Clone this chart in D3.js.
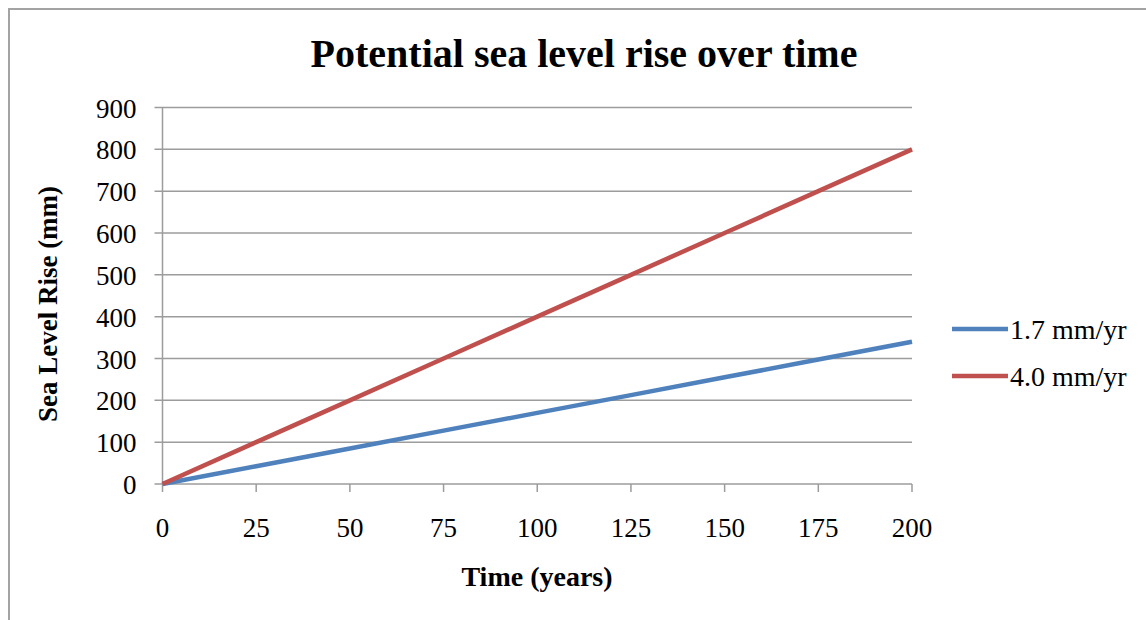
<!DOCTYPE html>
<html>
<head>
<meta charset="utf-8">
<script src="https://cdn.jsdelivr.net/npm/d3@7"></script>
<style>
  body { margin: 0; background: #fff; }
  text { font-family: "Liberation Serif", "DejaVu Serif", serif; fill: #000; }
</style>
</head>
<body>
<div id="chart"></div>
<script>
var years = [0, 25, 50, 75, 100, 125, 150, 175, 200];
var rise17 = [0, 42.5, 85, 127.5, 170, 212.5, 255, 297.5, 340];
var rise40 = [0, 100, 200, 300, 400, 500, 600, 700, 800];
var seriesNames = ["1.7 mm/yr", "4.0 mm/yr"];
var seriesColors = ["#4f81bd", "#c0504d"];
var yTicks = [0, 100, 200, 300, 400, 500, 600, 700, 800, 900];

function init() {
    var w = 1146;
    var h = 620;
    var margin = { top: 107.5, right: 234, bottom: 136, left: 162.5 };
    var innerWidth = w - margin.left - margin.right;
    var innerHeight = h - margin.top - margin.bottom;

    var svg = d3.select("#chart")
        .append("svg")
        .attr("width", w)
        .attr("height", h);

    // outer frame (cut off at right and bottom)
    svg.append("path")
        .attr("d", "M9,630 L9,9 L1160,9")
        .attr("fill", "none")
        .attr("stroke", "#a3a3a3")
        .attr("stroke-width", 2);

    svg.append("text")
        .attr("x", 584)
        .attr("y", 67)
        .attr("text-anchor", "middle")
        .style("font-size", "40px")
        .style("font-weight", "bold")
        .text("Potential sea level rise over time");

    var xScale = d3.scaleLinear().domain([0, 200]).range([0, innerWidth]);
    var yScale = d3.scaleLinear().domain([0, 900]).range([innerHeight, 0]);

    var g = svg.append("g")
        .attr("transform", "translate(" + margin.left + "," + margin.top + ")");

    // gridlines
    g.selectAll(".grid")
        .data(yTicks)
        .enter()
        .append("line")
        .attr("x1", -8)
        .attr("x2", innerWidth)
        .attr("y1", function(d) { return yScale(d); })
        .attr("y2", function(d) { return yScale(d); })
        .attr("stroke", "#9c9c9c")
        .attr("stroke-width", 1.5);

    // y axis line
    g.append("line")
        .attr("x1", 0).attr("x2", 0)
        .attr("y1", 0).attr("y2", innerHeight)
        .attr("stroke", "#9c9c9c")
        .attr("stroke-width", 1.5);

    // x ticks
    g.selectAll(".xtick")
        .data(years)
        .enter()
        .append("line")
        .attr("x1", function(d) { return xScale(d); })
        .attr("x2", function(d) { return xScale(d); })
        .attr("y1", innerHeight)
        .attr("y2", innerHeight + 8)
        .attr("stroke", "#9c9c9c")
        .attr("stroke-width", 1.5);

    g.selectAll(".ylab")
        .data(yTicks)
        .enter()
        .append("text")
        .attr("x", -26)
        .attr("y", function(d) { return yScale(d) + 10; })
        .attr("text-anchor", "end")
        .style("font-size", "27px")
        .text(function(d) { return d; });

    g.selectAll(".xlab")
        .data(years)
        .enter()
        .append("text")
        .attr("x", function(d) { return xScale(d); })
        .attr("y", innerHeight + 53)
        .attr("text-anchor", "middle")
        .style("font-size", "27px")
        .text(function(d) { return d; });

    var line = d3.line()
        .x(function(d) { return xScale(d[0]); })
        .y(function(d) { return yScale(d[1]); });

    var seriesData = [rise17, rise40].map(function(vals) {
        return years.map(function(y, i) { return [y, vals[i]]; });
    });

    g.selectAll(".series")
        .data(seriesData)
        .enter()
        .append("path")
        .attr("d", line)
        .attr("fill", "none")
        .attr("stroke", function(d, i) { return seriesColors[i]; })
        .attr("stroke-width", 4.5);

    // axis titles
    svg.append("text")
        .attr("x", 537)
        .attr("y", 586)
        .attr("text-anchor", "middle")
        .style("font-size", "28px")
        .style("font-weight", "bold")
        .text("Time (years)");

    svg.append("text")
        .attr("transform", "translate(57,304) rotate(-90)")
        .attr("text-anchor", "middle")
        .style("font-size", "27px")
        .style("font-weight", "bold")
        .text("Sea Level Rise (mm)");

    // legend
    var legend = svg.selectAll(".legend")
        .data(seriesNames)
        .enter()
        .append("g")
        .attr("transform", function(d, i) { return "translate(952," + (329 + i * 47) + ")"; });

    legend.append("line")
        .attr("x1", 0).attr("x2", 56)
        .attr("y1", 0).attr("y2", 0)
        .attr("stroke", function(d, i) { return seriesColors[i]; })
        .attr("stroke-width", 4.5);

    legend.append("text")
        .attr("x", 58)
        .attr("y", 10)
        .style("font-size", "28px")
        .text(function(d) { return d; });
}

window.onload = init;
</script>
</body>
</html>
